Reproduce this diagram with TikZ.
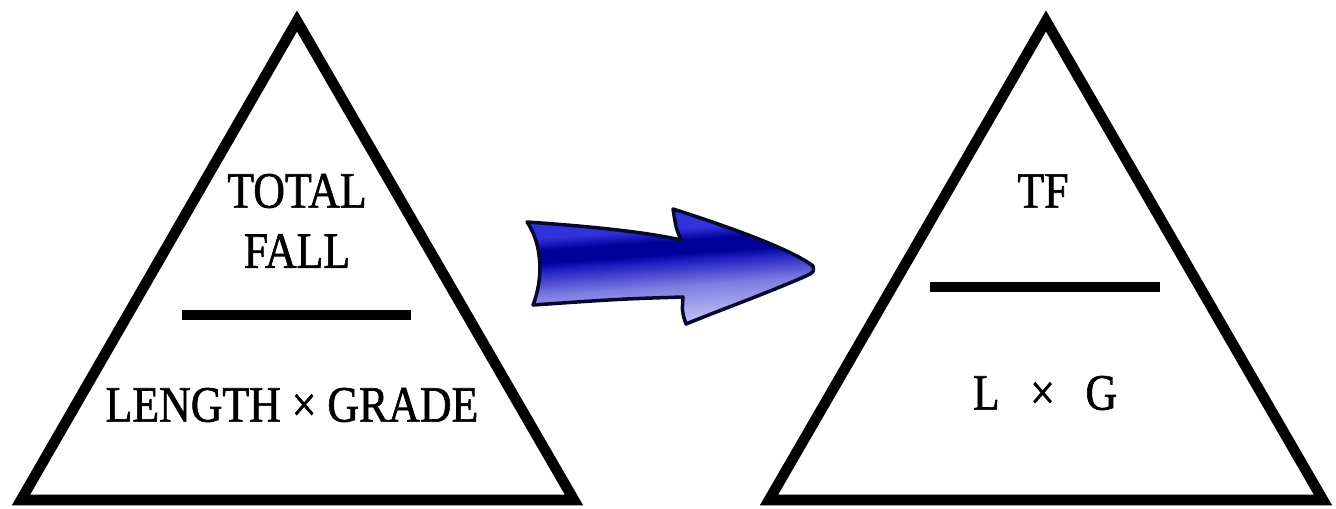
\documentclass[tikz,border=0pt]{standalone}
\usepackage{fontspec}
\setmainfont{Liberation Serif}[FakeStretch=0.86, FakeBold=1.2]
\usetikzlibrary{positioning, calc}
\definecolor{arrowdark}{RGB}{0,0,155}
\definecolor{arrowmid}{RGB}{50,50,220}
\definecolor{arrowsoft}{RGB}{125,125,225}
\definecolor{arrowlight}{RGB}{205,205,248}
\definecolor{arrowedge}{RGB}{5,10,45}
\pgfdeclareverticalshading{arrowshade}{100bp}{%
  color(0bp)=(arrowlight); color(25bp)=(arrowlight); color(42bp)=(arrowsoft);
  color(52bp)=(arrowmid!60!arrowdark); color(55bp)=(arrowdark); color(60bp)=(arrowdark);
  color(65bp)=(arrowmid); color(100bp)=(arrowmid)}

\begin{document}
\begin{tikzpicture}[
    x=0.02cm, y=-0.02cm,
    tri/.style={draw, line width=6pt, line join=miter},
    bar/.style={draw, line width=5.8pt},
    word/.style={font=\fontsize{29}{36}\selectfont, inner sep=0pt, align=center},
    bigarrow/.style={draw=arrowedge, line width=2pt, line join=round,
                     shading=arrowshade, shading angle=4}
]
\useasboundingbox (0,0) rectangle (1336,508);

% --- Left triangle ---
\coordinate (lTop)   at (297,21);
\coordinate (lLeft)  at (21,500);
\coordinate (lRight) at (574,500);
\draw[tri] (lTop) -- (lLeft) -- (lRight) -- cycle;

\node[word] (total) at (297,191) {TOTAL};
\node[word] (fall)  at (297,251) {FALL};
\coordinate (lBarA) at (182,315);
\coordinate (lBarB) at (411,315);
\draw[bar] (lBarA) -- (lBarB);
\node[word] (lenGrade) at (292,405) {LENGTH × GRADE};

% --- Arrow ---
\coordinate (tailTop) at (527,222);
\coordinate (tip)     at (813,268);
\draw[bigarrow] (tailTop)
    .. controls (600,227) and (650,233) .. (681,240)
    .. controls (676,228) .. (673,209)
    .. controls (745,232) and (795,252) .. (813,266)
    .. controls (814,272) .. (806,276)
    .. controls (760,296) and (720,310) .. (686,324)
    .. controls (682,312) .. (683,297)
    .. controls (620,299) .. (533,305)
    .. controls (543,280) and (543,245) .. (tailTop) -- cycle;

% --- Right triangle ---
\coordinate (rTop)   at (1046,21);
\coordinate (rLeft)  at (769,500);
\coordinate (rRight) at (1323,500);
\draw[tri] (rTop) -- (rLeft) -- (rRight) -- cycle;

\node[word] (tf) at (1043,191) {TF};
\coordinate (rBarA) at (930,287);
\coordinate (rBarB) at (1160,287);
\draw[bar] (rBarA) -- (rBarB);
\node[word] (lg) at (1045,393) {L\hspace{0.6em}×\hspace{0.6em}G};

\end{tikzpicture}
\end{document}
